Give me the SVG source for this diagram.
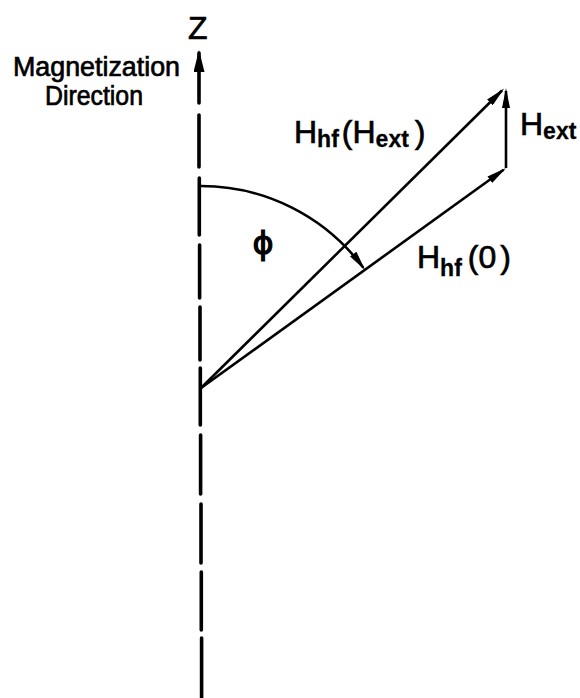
<svg xmlns="http://www.w3.org/2000/svg" width="580" height="698" viewBox="0 0 580 698">
<style>
.ln{fill:none;stroke:#000;stroke-width:2.6;stroke-linecap:butt}
.ax{fill:none;stroke:#000;stroke-width:3.6;stroke-linecap:round}
.t{font-family:"Liberation Sans","DejaVu Sans",sans-serif;fill:#000;stroke:#000;stroke-width:0.7}
.m{font-size:32px}
.s{font-size:23px;font-weight:bold;stroke-width:0.3}
.lab{font-size:27px}
</style>
<defs>
<marker id="ah" viewBox="0 0 20 8" refX="17" refY="4" markerWidth="20" markerHeight="8" markerUnits="userSpaceOnUse" orient="auto">
<path d="M0,0 L20,4 L0,8 z" fill="#000"/>
</marker>
<marker id="axh" viewBox="0 0 22 11" refX="19" refY="5.5" markerWidth="22" markerHeight="11" markerUnits="userSpaceOnUse" orient="auto">
<path d="M0,0 L22,5.5 L0,11 z" fill="#000"/>
</marker>
</defs>
<rect width="580" height="698" fill="#fff"/>
<g id="axis">
<path class="ax" d="M199,103 L199,53" marker-end="url(#axh)"/>
<path class="ax" d="M199,115 L199,167 M199.3,178 L199.3,235 M199.6,245 L199.6,298 M200,307 L200,360 M200.3,368 L200.3,425 M200.6,435 L200.6,494 M201,504 L201,563 M201.3,572 L201.3,630 M201.6,638 L201.6,698"/>
<text class="t" x="188" y="39" font-size="32">Z</text>
<text class="t lab" x="13" y="76" textLength="167" lengthAdjust="spacingAndGlyphs">Magnetization</text>
<text class="t lab" x="45" y="105" textLength="98" lengthAdjust="spacingAndGlyphs">Direction</text>
</g>
<g id="connectors">
<path class="ln" d="M201,388 L502,90.5" marker-end="url(#ah)"/>
<path class="ln" d="M201,388 L503.6,169.8" marker-end="url(#ah)"/>
<path class="ln" d="M506,168 L506,91" marker-end="url(#ah)"/>
<path class="ln" d="M200,186 A202,202 0 0,1 363.3,267.7" marker-end="url(#ah)"/>
</g>
<g id="label-hhf-hext">
<text class="t m" x="294" y="143">H<tspan class="s" dy="4">hf</tspan><tspan dx="3" dy="-4">(</tspan>H<tspan class="s" dy="4">ext</tspan><tspan dx="6" dy="-4">)</tspan></text>
</g>
<g id="label-hext">
<text class="t m" x="520" y="135">H<tspan class="s" dy="4" font-size="21">ext</tspan></text>
</g>
<g id="label-hhf0">
<text class="t m" x="417" y="268">H<tspan class="s" dy="8">hf</tspan><tspan dx="6" dy="-8">(</tspan>0<tspan dx="4">)</tspan></text>
</g>
<g id="label-phi">
<text x="263" y="254" text-anchor="middle" font-family="DejaVu Sans, sans-serif" font-size="32" stroke="#000" stroke-width="1.2">ϕ</text>
</g>
</svg>
